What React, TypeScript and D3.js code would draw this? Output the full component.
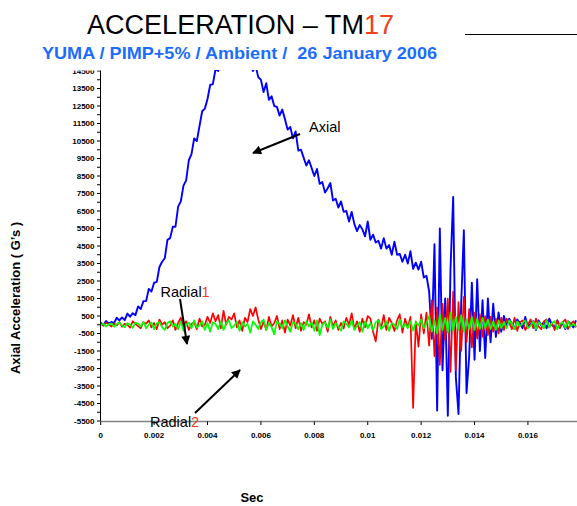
import React from 'react';
import * as d3 from 'd3';

const TIME_STEP = 0.0001;

const axial = [
  110, -10, 210, 70, 160, 90, 400, 250, 420, 260,
  640, 460, 660, 550, 1050, 900, 1350, 1350, 2050, 1900,
  2400, 2450, 3300, 3600, 3800, 4850, 4950, 5600, 5600, 6750,
  7050, 7950, 8250, 9400, 9750, 10650, 10500, 11350, 12200, 12350,
  12900, 13700, 13750, 14600, 14500, 15100, 15000, 15450, 15250, 15600,
  15300, 15650, 15300, 15500, 15100, 15300, 15050, 14500, 14800, 14150,
  14000, 13300, 13800, 12850, 13050, 12500, 12450, 11950, 12300, 11750,
  11150, 11300, 10650, 11050, 9950, 10000, 9550, 9100, 9400, 8950,
  8500, 8900, 8050, 8150, 7550, 7800, 8100, 7100, 7200, 6700,
  7050, 6450, 6500, 5900, 6450, 5750, 5350, 5700, 5450, 5050,
  5900, 4850, 5150, 4700, 4800, 4350, 4950, 4350, 4550, 4000,
  4750, 4000, 4050, 3600, 4000, 3500, 4200, 3200, 3550, 3150,
  3600, 2700, 2800, 1900, -800, 4600, -4900, 5500, -2600, 1500,
  -5200, 3200, 7300, -3000, -5100, 1200, 5400, -3900, -1800, 2400,
  -2000, 2600, -1500, 1400, -1900, 1500, -1000, 1200, -700, 700,
  -400, 500, -100, 350, 50, -250, 300, 100, -200, 450,
  -150, 50, 200, -300, 250, -50, 150, -200, 350, 0,
  -150, 250, -100, 100, -250, 200, 50, -150, 250,
];

const radial1 = [
  50, -60, 120, 20, -100, 80, -40, 150, -120, 60,
  0, -160, 200, 40, -80, -200, 150, 60, 250, -150,
  100, -250, 300, 0, 150, -200, -50, 250, -300, 100,
  400, -100, 200, -300, 50, 150, -250, 350, -100, 0,
  450, 100, 650, 200, 550, -200, 800, 0, 450, 300,
  650, -150, 250, -350, 400, 150, 900, 500, 1000, 300,
  -250, 200, -300, 450, -100, 100, 500, -250, 250, -450,
  300, -50, 550, -200, 400, -350, 150, 0, 600, -150,
  250, -350, 350, 50, 200, -400, 450, -100, 250, -300,
  100, -200, 400, 0, 650, -250, 200, -400, 350, -150,
  500, 350, -400, -950, 300, -200, 550, -300, 400, 100,
  -350, 250, 600, -450, 350, -150, 450, -4750, 200, -1250,
  600, -500, 700, -1200, 1400, -1800, 1000, -2300, 1200, -900,
  1500, -2700, 1900, -2600, 1300, -1500, 1600, -1000, 900, -1300,
  700, -800, 600, -700, 500, -600, 450, -400, 350, -500,
  400, -300, 350, 100, -250, 400, -350, 150, 250, -300,
  0, 300, -200, 350, -100, -250, 200, 300, -150, 100,
  -300, 250, -200, 150, 300, -250, 50, 200, -150,
];

const radial2 = [
  -30, 60, -100, 20, 80, -120, 40, 130, -60, -150,
  90, 20, -180, 120, 60, -100, 160, -200, 0, 130,
  -250, 80, 150, -150, -300, 100, 200, -100, 50, -250,
  180, -350, 0, 120, -200, 250, -150, -50, 200, -300,
  100, -400, 150, 50, -250, 200, -300, 100, 250, -200,
  -50, 180, -350, 150, -100, 50, -450, 200, 0, -250,
  150, 300, -300, 100, -150, -550, 200, 50, -200, 250,
  -100, -400, 150, 50, -250, 100, -300, 200, -100, 150,
  -350, 250, -600, 0, 150, -200, 300, -250, 100, -100,
  -350, 200, 50, -150, 250, -300, -50, 150, -400, 200,
  -200, 100, -300, 150, 250, -250, -100, 200, -350, 100,
  0, -250, 300, -150, 50, -200, 200, -350, 150, -50,
  300, -200, 100, 500, -400, 250, -500, 600, -300, 400,
  -450, 700, -350, 450, -300, 550, -400, 300, -250, 450,
  -300, 350, -250, 400, -200, 300, -250, 200, -300, 250,
  -200, 150, -200, 250, 50, -250, 200, -100, 100, 250,
  -200, -50, 200, -250, 150, 0, -200, 250, -150, 100,
  200, -250, 50, 150, -200, 200, -100, 50, -100,
];

const yTickValues = d3.range(-5500, 14501, 500);
const yTickLabels = [
  '-5500', '-4500', '-3500', '-2500', '-1500', '-500', '500', '1500', '2500', '3500',
  '4500', '5500', '6500', '7500', '8500', '9500', '10500', '11500', '12500', '13500', '14500',
];
const xTickValues = [0, 0.002, 0.004, 0.006, 0.008, 0.01, 0.012, 0.014, 0.016];
const xTickLabels = ['0', '0.002', '0.004', '0.006', '0.008', '0.01', '0.012', '0.014', '0.016'];

const FONT = '"Liberation Sans", Arial, Helvetica, sans-serif';

export default function App() {
  const W = 577;
  const H = 506;
  const x = d3.scaleLinear().domain([0, 0.0178]).range([100.7, 576]);
  const y = d3.scaleLinear().domain([-5500, 14500]).range([421, 71]);
  const line = d3
    .line<number>()
    .x((_, i) => x(i * TIME_STEP))
    .y((d) => y(d));

  return (
    <svg
      width={W}
      height={H}
      style={{ position: 'absolute', left: 0, top: 0, background: '#fff' }}
      fontFamily={FONT}
    >
      <defs>
        <clipPath id="plotClip">
          <rect x={100} y={70} width={480} height={360} />
        </clipPath>
        <clipPath id="axisClip">
          <rect x={0} y={70.5} width={110} height={380} />
        </clipPath>
        <marker
          id="arrow"
          viewBox="0 0 10 10"
          refX={9}
          refY={5}
          markerWidth={11}
          markerHeight={9}
          markerUnits="userSpaceOnUse"
          orient="auto"
        >
          <path d="M0,0 L10,5 L0,10 z" fill="#000" />
        </marker>
      </defs>
      <rect width={W} height={H} fill="#fff" />

      {/* Title */}
      <text x={87} y={34.3} fontSize={27} textLength={307} lengthAdjust="spacingAndGlyphs" fill="#000">
        ACCELERATION – TM<tspan fill="#f0401c">17</tspan>
      </text>
      <line x1={465} x2={577} y1={34.5} y2={34.5} stroke="#000" strokeWidth={1} />
      <text
        x={42}
        y={58.5}
        fontSize={16.5}
        fontWeight="bold"
        fill="#1a6cff"
        textLength={395}
        lengthAdjust="spacingAndGlyphs"
        style={{ whiteSpace: 'pre' }}
      >
        YUMA / PIMP+5% / Ambient /  26 January 2006
      </text>

      {/* Series */}
      <g clipPath="url(#plotClip)" fill="none" strokeLinejoin="round">
        <path d={line(axial) || ''} stroke="#0000ff" strokeWidth={1.9} />
        <path d={line(radial1) || ''} stroke="#ff0000" strokeWidth={1.7} />
        <path d={line(radial2) || ''} stroke="#00ff00" strokeWidth={1.7} />
      </g>

      {/* Y axis */}
      <g clipPath="url(#axisClip)">
        <line x1={100.5} x2={100.5} y1={y(14500) - 2} y2={y(-5500)} stroke="#000" strokeWidth={1} />
        {yTickValues.map((v) => (
          <line key={v} x1={97} x2={100.5} y1={y(v)} y2={y(v)} stroke="#000" strokeWidth={1} />
        ))}
        {yTickLabels.map((l) => (
          <text
            key={l}
            x={94.5}
            y={y(+l)}
            dy="0.35em"
            textAnchor="end"
            fontSize={8}
            fontWeight="bold"
            fill="#000"
          >
            {l}
          </text>
        ))}
      </g>

      {/* X axis */}
      <line x1={100} x2={577} y1={421.5} y2={421.5} stroke="#808080" strokeWidth={1.5} />
      {xTickValues.map((v) => (
        <line key={v} x1={x(v)} x2={x(v)} y1={421.5} y2={425} stroke="#000" strokeWidth={1} />
      ))}
      {xTickValues.map((v, i) => (
        <text key={v} x={x(v)} y={438} textAnchor="middle" fontSize={8} fontWeight="bold" fill="#000">
          {xTickLabels[i]}
        </text>
      ))}

      {/* Axis titles */}
      <text
        transform="translate(19.5,298) rotate(-90)"
        textAnchor="middle"
        fontSize={13}
        fontWeight="bold"
        fill="#000"
      >
        Axial Acceleration ( G’s )
      </text>
      <text x={252} y={502} textAnchor="middle" fontSize={13} fontWeight="bold" fill="#000">
        Sec
      </text>

      {/* Annotations */}
      <text x={309} y={131.5} fontSize={14.5} fill="#000">
        Axial
      </text>
      <line x1={300} y1={134} x2={253} y2={153} stroke="#000" strokeWidth={2} markerEnd="url(#arrow)" />

      <text x={160.5} y={297} fontSize={14.5} fill="#000">
        Radial<tspan fill="#f0401c">1</tspan>
      </text>
      <line x1={180} y1={299} x2={187} y2={344} stroke="#000" strokeWidth={2} markerEnd="url(#arrow)" />

      <text x={150} y={427} fontSize={14.5} fill="#000">
        Radial<tspan fill="#f0401c">2</tspan>
      </text>
      <line x1={195} y1={413} x2={240} y2={370} stroke="#000" strokeWidth={2} markerEnd="url(#arrow)" />
    </svg>
  );
}
